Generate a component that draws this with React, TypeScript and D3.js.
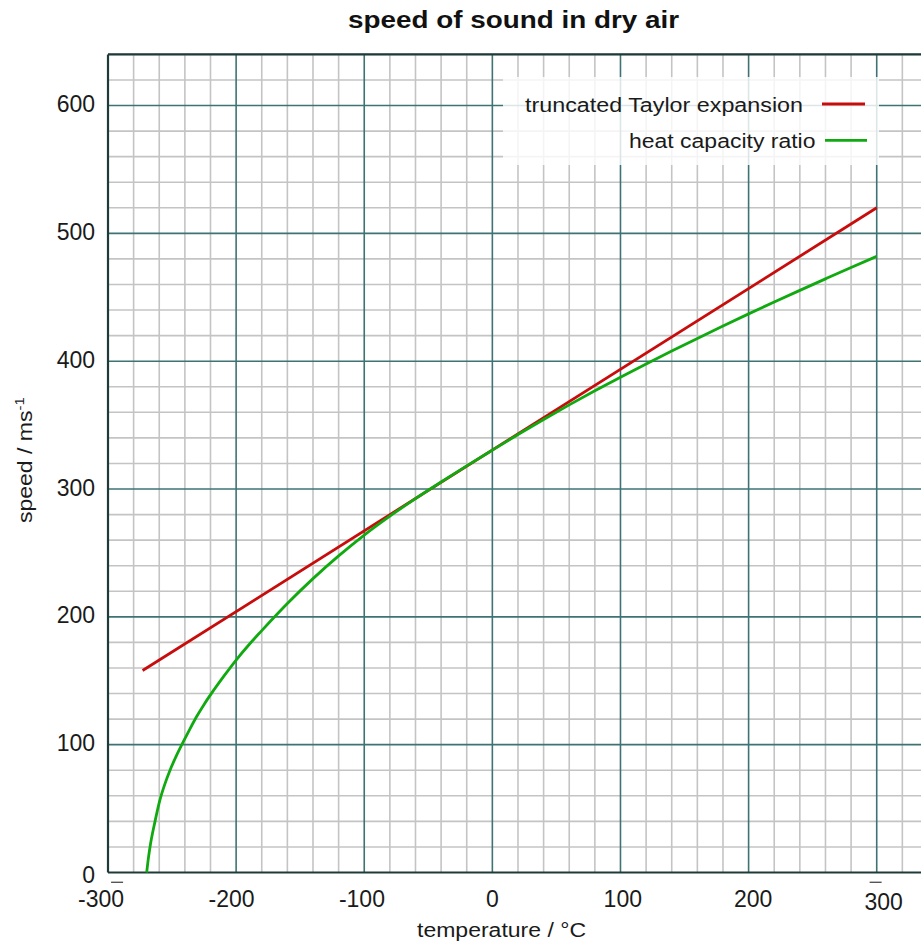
import React from "react";
import * as d3 from "d3";

const TITLE = "speed of sound in dry air";
const X_LABEL = "temperature / °C";
const Y_LABEL_MAIN = "speed / ms";
const Y_LABEL_SUP = "-1";
const SERIES_NAMES = ["truncated Taylor expansion", "heat capacity ratio"];
const SERIES_COLORS = ["#c80c0c", "#10aa10"];

const X_TICKS = [-300, -200, -100, 0, 100, 200, 300];
const Y_TICKS = [0, 100, 200, 300, 400, 500, 600];

// truncated Taylor expansion (straight line)
const TAYLOR_T = [-273, 300];
const TAYLOR_V = [158, 520];

// heat capacity ratio curve
const HCR_T = [
  -269.8, -268.5, -267.2, -263.3, -259.4, -255.5, -251.6, -246.4, -241.2,
  -236, -230.8, -225, -219.1, -210, -200, -190, -180, -160, -140, -120, -100,
  -80, -60, -40, -20, 0,
  20, 40, 60, 80, 100, 120, 140, 160, 180, 200, 220, 240, 260, 280, 300,
];
const HCR_V = [
  0, 11, 20, 40, 57, 69.5, 80, 91.8, 102.3,
  112.4, 122, 131.5, 140.3, 153, 166.2, 178.2, 189.2, 210.4, 229.9, 247.7, 264,
  278.8, 292.5, 305.5, 318.1, 330.4,
  342.6, 354.4, 365.8, 376.8, 387.4, 397.8, 407.9, 417.8, 427.5, 437, 446.3, 455.4, 464.4, 473.3, 482,
];

const W = 921;
const H = 949;
const FONT = "'Liberation Sans', Arial, Helvetica, sans-serif";

export default function App() {
  React.useEffect(() => {
    document.body.style.margin = "0";
  }, []);

  const x = d3.scaleLinear().domain([-300, 340]).range([108, 108 + 640 * 1.2812]);
  const y = d3.scaleLinear().domain([0, 640]).range([872.5, 872.5 - 640 * 1.2783]);

  const xMinor = d3.range(-300, 341, 20);
  const yMinor = d3.range(0, 641, 20);
  const isMajor = (v: number) => v % 100 === 0;

  const line = d3
    .line<[number, number]>()
    .x((d) => x(d[0]))
    .y((d) => y(d[1]))
    .curve(d3.curveMonotoneX);

  const taylor: [number, number][] = TAYLOR_T.map((t, i) => [t, TAYLOR_V[i]]);
  const hcr: [number, number][] = HCR_T.map((t, i) => [t, HCR_V[i]]);

  const [x0, x1] = x.range();
  const [y0, y1] = y.range();
  const cx = x(0);
  const labelX = (v: number) => cx + 1.018 * (x(v) - cx);

  return (
    <svg
      width={W}
      height={H}
      style={{ position: "absolute", left: 0, top: 0, background: "#fff" }}
      fontFamily={FONT}
    >
      <rect x={0} y={0} width={W} height={H} fill="#fff" />
      {/* minor grid */}
      <g stroke="#c4c4c4" strokeWidth={1.6}>
        {xMinor.filter((v) => !isMajor(v)).map((v) => (
          <line key={"xm" + v} x1={x(v)} x2={x(v)} y1={y1} y2={y0} />
        ))}
        {yMinor.filter((v) => !isMajor(v)).map((v) => (
          <line key={"ym" + v} x1={x0} x2={x1} y1={y(v)} y2={y(v)} />
        ))}
      </g>
      {/* major grid */}
      <g stroke="#3f7373" strokeWidth={1.6}>
        {xMinor.filter((v) => isMajor(v) && v > -300).map((v) => (
          <line key={"xM" + v} x1={x(v)} x2={x(v)} y1={y1} y2={y0} />
        ))}
        {yMinor.filter((v) => isMajor(v) && v > 0).map((v) => (
          <line key={"yM" + v} x1={x0} x2={x1} y1={y(v)} y2={y(v)} />
        ))}
      </g>
      {/* frame */}
      <g stroke="#1e3a3a" strokeWidth={2.2}>
        <line x1={x0} x2={x1} y1={y0} y2={y0} />
        <line x1={x0} x2={x0} y1={y1} y2={y0} />
        <line x1={x0} x2={x1} y1={y1} y2={y1} />
      </g>

      {/* series */}
      <path d={line(taylor) || ""} fill="none" stroke={SERIES_COLORS[0]} strokeWidth={2.8} />
      <path d={line(hcr) || ""} fill="none" stroke={SERIES_COLORS[1]} strokeWidth={2.8} strokeLinejoin="round" />

      {/* legend */}
      <rect x={503} y={77} width={376} height={88} fill="#fff" fillOpacity={0.82} />
      <text x={525} y={111.5} fontSize={20} fill="#1a1a1a" textLength={278} lengthAdjust="spacingAndGlyphs">
        {SERIES_NAMES[0]}
      </text>
      <line x1={822} x2={865} y1={104} y2={104} stroke={SERIES_COLORS[0]} strokeWidth={2.8} />
      <text x={629} y={148.3} fontSize={20} fill="#1a1a1a" textLength={186.5} lengthAdjust="spacingAndGlyphs">
        {SERIES_NAMES[1]}
      </text>
      <line x1={825} x2={867} y1={140.3} y2={140.3} stroke={SERIES_COLORS[1]} strokeWidth={2.8} />

      {/* y tick labels */}
      {Y_TICKS.map((v) => (
        <text key={"yt" + v} x={95} y={y(v) + 6.5 + (v === 0 ? 4 : 0)} fontSize={23} textAnchor="end" fill="#1a1a1a">
          {v}
        </text>
      ))}
      {/* x tick labels */}
      {X_TICKS.map((v) => (
        <text
          key={"xt" + v}
          x={labelX(v)}
          y={907 + (v === 300 ? 3 : 0)}
          fontSize={23}
          textAnchor="middle"
          fill="#1a1a1a"
        >
          {v}
        </text>
      ))}
      {/* small dashes above the end labels */}
      <g stroke="#555" strokeWidth={1.4}>
        <line x1={labelX(-300) + 10} x2={labelX(-300) + 22} y1={882.3} y2={882.3} />
        <line x1={labelX(300) - 14} x2={labelX(300) - 2} y1={882.3} y2={882.3} />
      </g>

      {/* title */}
      <text x={348} y={28.3} fontSize={23} fontWeight="bold" fill="#111" textLength={331} lengthAdjust="spacingAndGlyphs">
        {TITLE}
      </text>
      {/* x axis label */}
      <text x={417} y={936.7} fontSize={20} fill="#1a1a1a" textLength={169} lengthAdjust="spacingAndGlyphs">
        {X_LABEL}
      </text>
      {/* y axis label */}
      <text transform="translate(32,523) rotate(-90) scale(1.15,1)" fontSize={20} fill="#1a1a1a">
        {Y_LABEL_MAIN}
        <tspan fontSize={13} dy={-8}>
          {Y_LABEL_SUP}
        </tspan>
      </text>
    </svg>
  );
}
